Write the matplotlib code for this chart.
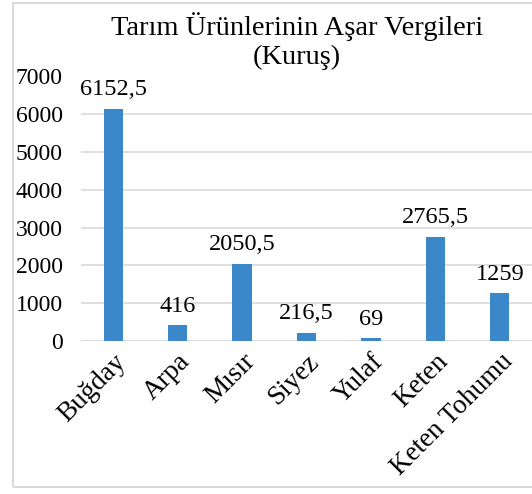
import matplotlib
matplotlib.use("Agg")
import matplotlib.pyplot as plt
from matplotlib.patches import Rectangle

categories = ["Buğday", "Arpa", "Mısır", "Siyez", "Yulaf", "Keten", "Keten Tohumu"]
values = [6152.5, 416, 2050.5, 216.5, 69, 2765.5, 1259]
labels = ["6152,5", "416", "2050,5", "216,5", "69", "2765,5", "1259"]
yticks = [0, 1000, 2000, 3000, 4000, 5000, 6000, 7000]

plt.rcParams['font.family'] = ['Liberation Serif', 'DejaVu Serif']

W, H = 532, 494
fig = plt.figure(figsize=(W/100, H/100), dpi=100)
fig.patch.set_facecolor('white')

# outer chart border
fig.patches.append(Rectangle((13/W, 1-487/H), 1.2, (487-3)/H, transform=fig.transFigure,
                             fill=False, edgecolor='#D9D9D9', linewidth=1.5))

ax = fig.add_axes([81/W, 1-341/H, (532-81)/W, (341-76.5)/H])
x = range(len(categories))
ax.bar(x, values, width=0.3, color='#3A87C9', zorder=3)
ax.set_xlim(-0.5, len(categories)-0.5)
ax.set_ylim(0, 7000)
ax.set_yticks(yticks)
ax.set_yticklabels([str(t) for t in yticks], fontsize=17)
ax.yaxis.grid(True, color='#D9D9D9', linewidth=1.2, zorder=0)
for s in ax.spines.values():
    s.set_visible(False)
ax.tick_params(axis='both', length=0)
ax.tick_params(axis='y', pad=13)
ax.set_xticks(list(x))
ax.set_xticklabels(categories, rotation=45, ha='right', va='top', rotation_mode='anchor', fontsize=19.5)
ax.tick_params(axis='x', pad=6)
ax.axhline(0, color='#D9D9D9', linewidth=1.2, zorder=2)

for i, (v, l) in enumerate(zip(values, labels)):
    ax.annotate(l, (i, v), xytext=(0, 6), textcoords='offset points',
                ha='center', va='bottom', fontsize=17.5)

fig.text(297/W, 1-27/H, "Tarım Ürünlerinin Aşar Vergileri", ha='center', va='center', fontsize=20.5)
fig.text(297/W, 1-57/H, "(Kuruş)", ha='center', va='center', fontsize=20.5)

fig.savefig("out.png", dpi=100, facecolor='white')
